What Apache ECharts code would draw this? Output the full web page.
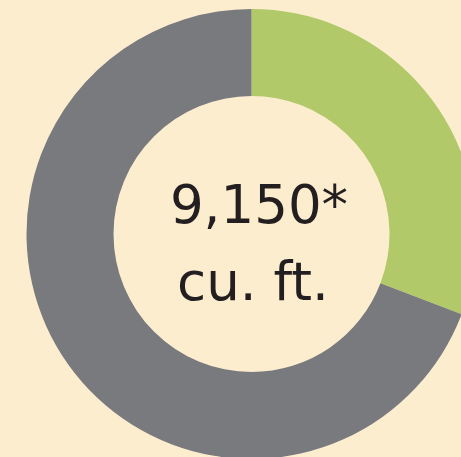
<!DOCTYPE html>
<html>
<head>
<meta charset="utf-8">
<script src="https://cdn.jsdelivr.net/npm/echarts@6/dist/echarts.min.js"></script>
<style>
	html, body { margin: 0; padding: 0; background: #fdedcf; }
	#container { width: 461px; height: 457px; }
</style>
</head>
<body>
<div id="container"></div>
<script>
	// 数据
	var categories = ['Used', 'Remaining'];
	var values = [30.8, 69.2];
	var colors = ['#b1c968', '#797a7e'];
	var centerLines = ['9,150*', 'cu. ft.'];

	var myChart = echarts.init(document.getElementById('container'));
	var textStyle = {
		font: '400 53px "DejaVu Sans"',
		fill: '#231f20',
		textAlign: 'center',
		textVerticalAlign: 'top'
	};
	var option = {
		backgroundColor: '#fdedcf',
		animation: false,
		graphic: [{
			type: 'text',
			x: 259,
			y: 183,
			style: echarts.util.extend({ text: centerLines[0] }, textStyle)
		}, {
			type: 'text',
			x: 253,
			y: 260,
			style: echarts.util.extend({ text: centerLines[1] }, textStyle)
		}],
		series: [{
			type: 'pie',
			center: [251.5, 234],
			radius: [138, 225],
			startAngle: 90,
			clockwise: true,
			silent: true,
			label: { show: false },
			labelLine: { show: false },
			itemStyle: { borderWidth: 0 },
			data: categories.map(function(name, i) {
				return { name: name, value: values[i], itemStyle: { color: colors[i] } };
			})
		}]
	};
	myChart.setOption(option);
</script>
</body>
</html>
